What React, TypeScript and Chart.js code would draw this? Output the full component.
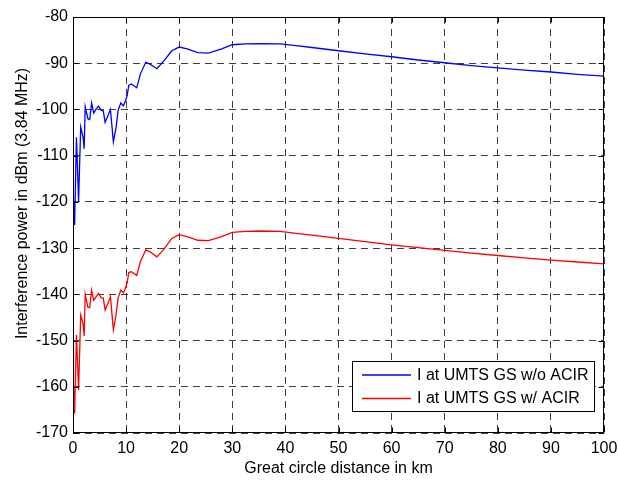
import React, { useEffect, useRef } from "react";
import { Chart, registerables } from "chart.js";

Chart.register(...registerables);

const distanceKm = [
  0, 0.3, 0.65, 1.05, 1.45, 1.9, 2.1, 2.3, 2.8, 3.15,
  3.5, 3.9, 4.3, 4.8, 5.3, 5.7, 6.05, 6.6, 7.05, 7.6,
  8.1, 8.5, 9.0, 9.5, 9.8, 10.2, 10.5, 11, 12, 12.7,
  13.7, 14.5, 15.8, 17.2, 18.6, 20, 21.5, 23.5, 25.5, 28,
  30, 32.5, 35, 39, 42, 45, 50, 55, 60, 65,
  70, 75, 80, 85, 90, 95, 100,
];

const noAcir = [
  -116.8, -125, -106, -119.8, -103.8, -106, -108.5, -99.4, -102, -102.2,
  -98.6, -100.8, -100, -99.3, -100.2, -100.3, -102.8, -101.3, -100, -107,
  -104, -100.2, -98.6, -99.2, -98.4, -97, -94.8, -94.5, -95.3, -92.3,
  -89.8, -90.2, -91.2, -89.4, -87.3, -86.5, -86.9, -87.7, -87.8, -86.9,
  -86, -85.8, -85.75, -85.8, -86.2, -86.6, -87.3, -88.0, -88.6, -89.3,
  -89.9, -90.5, -91.0, -91.5, -91.9, -92.4, -92.8,
];

const withAcir = [
  -157.1, -165.8, -148.8, -160.7, -144.5, -146.4, -149, -140, -142.8, -142.9,
  -139.1, -141.3, -140.6, -139.8, -140.7, -140.8, -143.4, -141.9, -140.5, -147.7,
  -144.5, -140.7, -139.1, -139.7, -138.9, -137.5, -135.3, -135.1, -135.9, -132.9,
  -130.4, -130.8, -131.9, -130.1, -127.9, -127.1, -127.5, -128.3, -128.4, -127.5,
  -126.6, -126.4, -126.3, -126.4, -126.8, -127.2, -127.9, -128.6, -129.3, -129.9,
  -130.5, -131.1, -131.6, -132.1, -132.6, -133.0, -133.4,
];

const seriesLabels = ["I at UMTS GS w/o ACIR", "I at UMTS GS w/ ACIR"];
const seriesColors = ["#0000ff", "#ff0000"];
const xTitle = "Great circle distance in km";
const yTitle = "Interference power in dBm (3.84 MHz)";

const FONT = "Liberation Sans, Arial, Helvetica, sans-serif";

const framePlugin = {
  id: "frame",
  afterDraw(chart: any) {
    const { ctx, chartArea } = chart;
    const { left, right, top, bottom } = chartArea;
    const xs = chart.scales.x;
    const ys = chart.scales.y;
    ctx.save();
    ctx.strokeStyle = "#000";
    ctx.lineWidth = 1;
    ctx.setLineDash([]);
    const L = Math.round(left) + 0.5;
    const R = Math.round(right) - 0.5;
    const T = Math.round(top) + 0.5;
    const B = Math.round(bottom) - 0.5;
    ctx.strokeRect(L, T, R - L, B - T);
    const tl = 5;
    ctx.beginPath();
    xs.ticks.forEach((t: any) => {
      const px = Math.round(xs.getPixelForValue(t.value)) + 0.5;
      ctx.moveTo(px, B);
      ctx.lineTo(px, B - tl);
      ctx.moveTo(px, T);
      ctx.lineTo(px, T + tl);
    });
    ys.ticks.forEach((t: any) => {
      const py = Math.round(ys.getPixelForValue(t.value)) + 0.5;
      ctx.moveTo(L, py);
      ctx.lineTo(L + tl, py);
      ctx.moveTo(R, py);
      ctx.lineTo(R - tl, py);
    });
    ctx.stroke();

    // y-axis title
    ctx.fillStyle = "#000";
    ctx.font = `16px ${FONT}`;
    ctx.textAlign = "center";
    ctx.textBaseline = "alphabetic";
    ctx.save();
    ctx.translate(26.7, 203.5);
    ctx.rotate(-Math.PI / 2);
    ctx.fillText(yTitle, 0, 0);
    ctx.restore();

    // legend box
    const bx = 352.5, by = 361.5, bw = 242, bh = 50;
    ctx.fillStyle = "#fff";
    ctx.fillRect(bx, by, bw, bh);
    ctx.strokeStyle = "#000";
    ctx.lineWidth = 1;
    ctx.strokeRect(bx, by, bw, bh);
    const rows = [375, 398.5];
    chart.data.datasets.forEach((ds: any, i: number) => {
      const y = rows[i];
      ctx.strokeStyle = ds.borderColor;
      ctx.lineWidth = 1.3;
      ctx.beginPath();
      ctx.moveTo(362, y);
      ctx.lineTo(411, y);
      ctx.stroke();
      ctx.fillStyle = "#000";
      ctx.textAlign = "left";
      ctx.textBaseline = "middle";
      ctx.fillText(ds.label, 417, y + 0.5);
    });
    ctx.restore();
  },
};

export default function App() {
  const ref = useRef<HTMLCanvasElement | null>(null);
  useEffect(() => {
    if (!ref.current) return;
    const mk = (vals: number[]) => distanceKm.map((x, i) => ({ x, y: vals[i] }));
    const chart = new Chart(ref.current, {
      type: "line",
      data: {
        datasets: [
          {
            label: seriesLabels[0],
            data: mk(noAcir),
            borderColor: seriesColors[0],
            backgroundColor: seriesColors[0],
            borderWidth: 1.3,
            pointRadius: 0,
            tension: 0,
            fill: false,
          },
          {
            label: seriesLabels[1],
            data: mk(withAcir),
            borderColor: seriesColors[1],
            backgroundColor: seriesColors[1],
            borderWidth: 1.3,
            pointRadius: 0,
            tension: 0,
            fill: false,
          },
        ],
      },
      options: {
        responsive: false,
        animation: false,
        devicePixelRatio: 1,
        layout: { padding: { left: 0, right: 14, top: 17, bottom: 0 } },
        plugins: {
          legend: { display: false },
          tooltip: { enabled: false },
        },
        scales: {
          x: {
            type: "linear",
            min: 0,
            max: 100,
            ticks: {
              stepSize: 10,
              color: "#000",
              padding: 6,
              maxRotation: 0,
              font: { family: FONT, size: 16 },
            },
            grid: {
              color: "rgba(0,0,0,0.75)",
              drawTicks: false,
              lineWidth: 1,
            },
            border: { display: false, dash: [7, 5] },
            title: {
              display: true,
              text: xTitle,
              color: "#000",
              font: { family: FONT, size: 16 },
              padding: { top: 0, bottom: 2 },
            },
            afterFit: (s: any) => {
              s.height = 47;
              s.paddingLeft = 0;
              s.paddingRight = 0;
            },
          },
          y: {
            type: "linear",
            min: -170,
            max: -80,
            ticks: {
              stepSize: 10,
              color: "#000",
              padding: 5,
              font: { family: FONT, size: 16 },
            },
            grid: {
              color: "rgba(0,0,0,0.75)",
              drawTicks: false,
              lineWidth: 1,
            },
            border: { display: false, dash: [7, 5] },
            afterFit: (s: any) => {
              s.width = 73;
              s.paddingTop = 0;
              s.paddingBottom = 0;
            },
          },
        },
      },
      plugins: [framePlugin],
    });
    return () => chart.destroy();
  }, []);
  return (
    <div style={{ position: "fixed", left: 0, top: 0, width: 618, height: 480, background: "#fff" }}>
      <canvas ref={ref} width={618} height={480} style={{ display: "block", width: 618, height: 480 }} />
    </div>
  );
}
